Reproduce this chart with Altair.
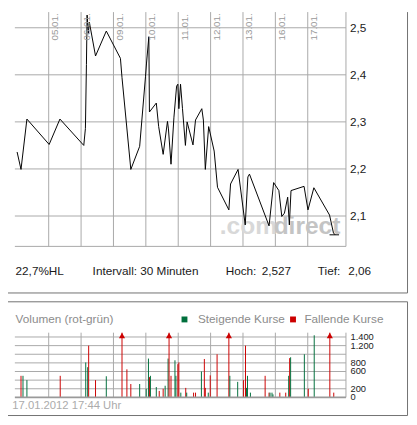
import altair as alt
import pandas as pd

FONT = "Liberation Sans"
GRID = "#a8a8a8"
GREEN = "#006f3c"
RED = "#cc0000"

# ---- price line (x in trading-day units, day boundaries at integers) ----
line_t = [0.024, 0.145, 0.327, 1.014, 1.347, 2.083, 2.134, 2.165, 2.186, 2.225,
          2.255, 2.446, 2.779, 3.215, 3.264, 3.536, 3.809, 3.990, 4.021, 4.093,
          4.111, 4.323, 4.396, 4.535, 4.668, 4.698, 4.777, 4.868, 4.950, 4.989,
          5.020, 5.071, 5.132, 5.222, 5.274, 5.456, 5.534, 5.728, 5.777, 5.837,
          5.940, 6.110, 6.213, 6.564, 6.616, 6.848, 7.069, 7.151, 7.200, 7.805,
          7.947, 8.108, 8.199, 8.280, 8.380, 8.432, 8.483, 8.886, 9.007, 9.189,
          9.673, 9.794, 9.846]
line_p = [2.236, 2.199, 2.306, 2.252, 2.306, 2.250, 2.286, 2.422, 2.527, 2.488,
          2.512, 2.440, 2.493, 2.435, 2.394, 2.199, 2.248, 2.397, 2.425, 2.481,
          2.321, 2.340, 2.290, 2.231, 2.301, 2.285, 2.210, 2.310, 2.376, 2.380,
          2.328, 2.380, 2.328, 2.250, 2.300, 2.251, 2.304, 2.328, 2.304, 2.199,
          2.290, 2.238, 2.161, 2.113, 2.168, 2.199, 2.081, 2.183, 2.189, 2.079,
          2.171, 2.154, 2.099, 2.106, 2.140, 2.081, 2.154, 2.163, 2.113, 2.160,
          2.102, 2.064, 2.060]

low_t = [9.673, 9.967]
low_p = 2.06

# ---- volume bars ----
vol_t = [0.145, 0.206, 0.327, 1.356, 2.144, 2.204, 2.234, 2.446, 2.779, 3.264,
         3.415, 3.536, 3.809, 4.012, 4.081, 4.111, 4.142, 4.323, 4.414, 4.535,
         4.596, 4.687, 4.717, 4.777, 4.899, 4.929, 4.989, 5.020, 5.080, 5.232,
         5.262, 5.474, 5.534, 5.716, 5.807, 5.837, 5.928, 5.989, 6.200, 6.564,
         6.594, 6.836, 7.018, 7.078, 7.109, 7.139, 7.230, 7.684, 7.805, 7.835,
         7.896, 7.926, 8.138, 8.320, 8.411, 8.441, 8.471, 8.895, 9.016, 9.200,
         9.682, 9.803]
vol_v = [500, 500, 400, 500, 810, 700, 1200, 400, 490, 1800,
         650, 310, 310, 200, 900, 470, 500, 240, 150, 200,
         270, 900, 1800, 500, 860, 500, 770, 810, 110, 220,
         110, 110, 110, 600, 890, 220, 110, 510, 1000, 1800,
         500, 360, 400, 1200, 220, 500, 110, 500, 110, 110,
         110, 70, 110, 110, 500, 910, 930, 1000, 200, 1440,
         1800, 110]
vol_dir = ["down", "up", "up", "down", "up", "up", "down", "down", "up", "down",
           "down", "down", "up", "up", "up", "down", "up", "up", "down", "down",
           "up", "up", "down", "down", "up", "up", "down", "down", "up", "down",
           "up", "down", "down", "up", "down", "down", "up", "down", "down", "down",
           "up", "up", "down", "down", "up", "up", "up", "down", "down", "up",
           "up", "up", "down", "down", "up", "down", "up", "up", "down", "up",
           "down", "down"]

# ---- axes / labels ----
day_pos = [1, 2, 3, 4, 5, 6, 7, 8, 9]
day_labels = ["05.01.", "06.01.", "09.01.", "10.01.", "11.01.",
              "12.01.", "13.01.", "16.01.", "17.01."]
price_ticks = [2.1, 2.2, 2.3, 2.4, 2.5]
price_labels = ["2,1", "2,2", "2,3", "2,4", "2,5"]
vol_grid = [200, 400, 600, 800, 1000, 1200, 1400]
vol_ticks = [0, 200, 600, 800, 1200, 1400]
vol_labels = ["0", "200", "600", "800", "1.200", "1.400"]

T0, T1 = -0.045, 10.18
P0, P1 = 2.0354, 2.5333
V0, V1 = 0, 1500

xs = alt.Scale(domain=[T0, T1], range=[7, 344.7], nice=False, zero=False)
ps = alt.Scale(domain=[P0, P1], range=[239, 0], nice=False, zero=False)
vs = alt.Scale(domain=[V0, V1], range=[393, 327], nice=False, zero=False, clamp=True)


def X(f):
    return alt.X(f, scale=xs, axis=None)


def Y(f, s):
    return alt.Y(f, scale=s, axis=None)


line_df = pd.DataFrame({"t": line_t, "p": line_p})
vol_df = pd.DataFrame({"t": vol_t, "v": vol_v, "dir": vol_dir})
one = pd.DataFrame({"a": [0]})

layers = []

# top panel grid
layers.append(alt.Chart(pd.DataFrame({"p": [P0] + price_ticks, "a": T0, "b": T1}))
              .mark_rule(color=GRID, strokeWidth=1)
              .encode(y=Y("p:Q", ps), x=X("a:Q"), x2="b:Q"))
layers.append(alt.Chart(pd.DataFrame({"t": day_pos + [T1], "a": P0, "b": P1}))
              .mark_rule(color=GRID, strokeWidth=1)
              .encode(x=X("t:Q"), y=Y("a:Q", ps), y2="b:Q"))

# volume grid
layers.append(alt.Chart(pd.DataFrame({"v": vol_grid, "a": T0, "b": T1}))
              .mark_rule(color=GRID, strokeWidth=1)
              .encode(y=Y("v:Q", vs), x=X("a:Q"), x2="b:Q"))
layers.append(alt.Chart(pd.DataFrame({"t": day_pos + [T1], "a": V0, "b": V1}))
              .mark_rule(color=GRID, strokeWidth=1)
              .encode(x=X("t:Q"), y=Y("a:Q", vs), y2="b:Q"))

# watermark
layers.append(alt.Chart(one)
              .mark_text(text=".com", font=FONT, fontSize=25, fontWeight="bold",
                         color="#d8d8d8", align="left", baseline="alphabetic")
              .encode(x=alt.value(216), y=alt.value(226)))
layers.append(alt.Chart(one)
              .mark_text(text="direct", font=FONT, fontSize=25, fontWeight="bold",
                         color="#c4c4c4", align="right", baseline="alphabetic")
              .encode(x=alt.value(339), y=alt.value(226)))

# price line
layers.append(alt.Chart(line_df).mark_line(color="black", strokeWidth=1)
              .encode(x=X("t:Q"), y=Y("p:Q", ps)))
layers.append(alt.Chart(pd.DataFrame({"a": [low_t[0]], "b": [low_t[1]], "p": [low_p]}))
              .mark_rule(color="black", strokeWidth=1)
              .encode(x=X("a:Q"), x2="b:Q", y=Y("p:Q", ps)))

# volume bars
layers.append(alt.Chart(vol_df).mark_rule(strokeWidth=1)
              .transform_calculate(base="0")
              .encode(x=X("t:Q"), y=Y("v:Q", vs), y2="base:Q",
                      color=alt.Color("dir:N", scale=alt.Scale(domain=["up", "down"], range=[GREEN, RED]),
                                      legend=None)))
layers.append(alt.Chart(pd.DataFrame({"v": [0], "a": T0, "b": T1}))
              .mark_rule(color="#9a9a9a", strokeWidth=2)
              .encode(y=Y("v:Q", vs), x=X("a:Q"), x2="b:Q"))
layers.append(alt.Chart(vol_df).transform_filter(alt.datum.v > V1)
              .transform_calculate(m="1435")
              .mark_point(shape="triangle-up", filled=True, size=40, opacity=1, color=RED)
              .encode(x=X("t:Q"), y=Y("m:Q", vs)))

# day labels (rotated, inside top of chart)
layers.append(alt.Chart(pd.DataFrame({"t": day_pos, "s": day_labels}))
              .mark_text(font=FONT, fontSize=10, color="#999999", angle=270,
                         align="left", baseline="top", xOffset=1.5)
              .encode(x=X("t:Q"), y=alt.value(29), text="s:N"))

# price labels
layers.append(alt.Chart(pd.DataFrame({"p": price_ticks, "s": price_labels}))
              .mark_text(font=FONT, fontSize=12, color="#222222", align="left", baseline="middle")
              .encode(y=Y("p:Q", ps), x=alt.value(348.7), text="s:N"))

# volume labels
layers.append(alt.Chart(pd.DataFrame({"v": vol_ticks, "s": vol_labels}))
              .mark_text(font=FONT, fontSize=9.5, color="#222222", align="left", baseline="middle")
              .encode(y=Y("v:Q", vs), x=alt.value(349.3), text="s:N"))

# annotation texts
info_texts = ["22,7%HL", "Intervall: 30 Minuten", "Hoch:", "2,527", "Tief:", "2,06"]
info_x = [7.7, 86.3, 222, 258.7, 316, 347]
for s, x in zip(info_texts, info_x):
    layers.append(alt.Chart(one)
                  .mark_text(text=s, font=FONT, fontSize=12, color="#1a1a1a",
                             align="left", baseline="middle")
                  .encode(x=alt.value(x), y=alt.value(264)))

vol_title = ["Volumen (rot-grün)", "Steigende Kurse", "Fallende Kurse"]
vol_title_x = [7.7, 193.7, 302.3]
for s, x in zip(vol_title, vol_title_x):
    layers.append(alt.Chart(one)
                  .mark_text(text=s, font=FONT, fontSize=12, color="#8c8c8c",
                             align="left", baseline="middle")
                  .encode(x=alt.value(x), y=alt.value(313)))
for c, x in [(GREEN, 180), (RED, 290.7)]:
    layers.append(alt.Chart(one)
                  .mark_square(size=36, color=c, filled=True, opacity=1)
                  .encode(x=alt.value(x), y=alt.value(313.5)))

layers.append(alt.Chart(one)
              .mark_text(text="17.01.2012 17:44 Uhr", font=FONT, fontSize=11.5, color="#ababab",
                         align="left", baseline="middle")
              .encode(x=alt.value(4.3), y=alt.value(402)))

# frames
FRAME = "#707070"
for (x1, x2, y1, y2) in [(0, 407.5, 286.5, 286.5), (407.5, 407.5, 0, 286.5),
                         (0, 407.5, 295.5, 295.5), (0, 407.5, 411.5, 411.5),
                         (407.5, 407.5, 295.5, 411.5)]:
    layers.append(alt.Chart(one)
                  .mark_rule(color=FRAME, strokeWidth=1)
                  .encode(x=alt.value(x1), x2=alt.value(x2), y=alt.value(y1), y2=alt.value(y2)))

chart = (alt.layer(*layers)
         .resolve_scale(y="independent")
         .properties(width=409, height=417, padding=0,
                     autosize=alt.AutoSizeParams(type="none"), background="white")
         .configure_view(strokeWidth=0))

chart.save("out.html", embed_options={"renderer": "svg", "actions": False})
